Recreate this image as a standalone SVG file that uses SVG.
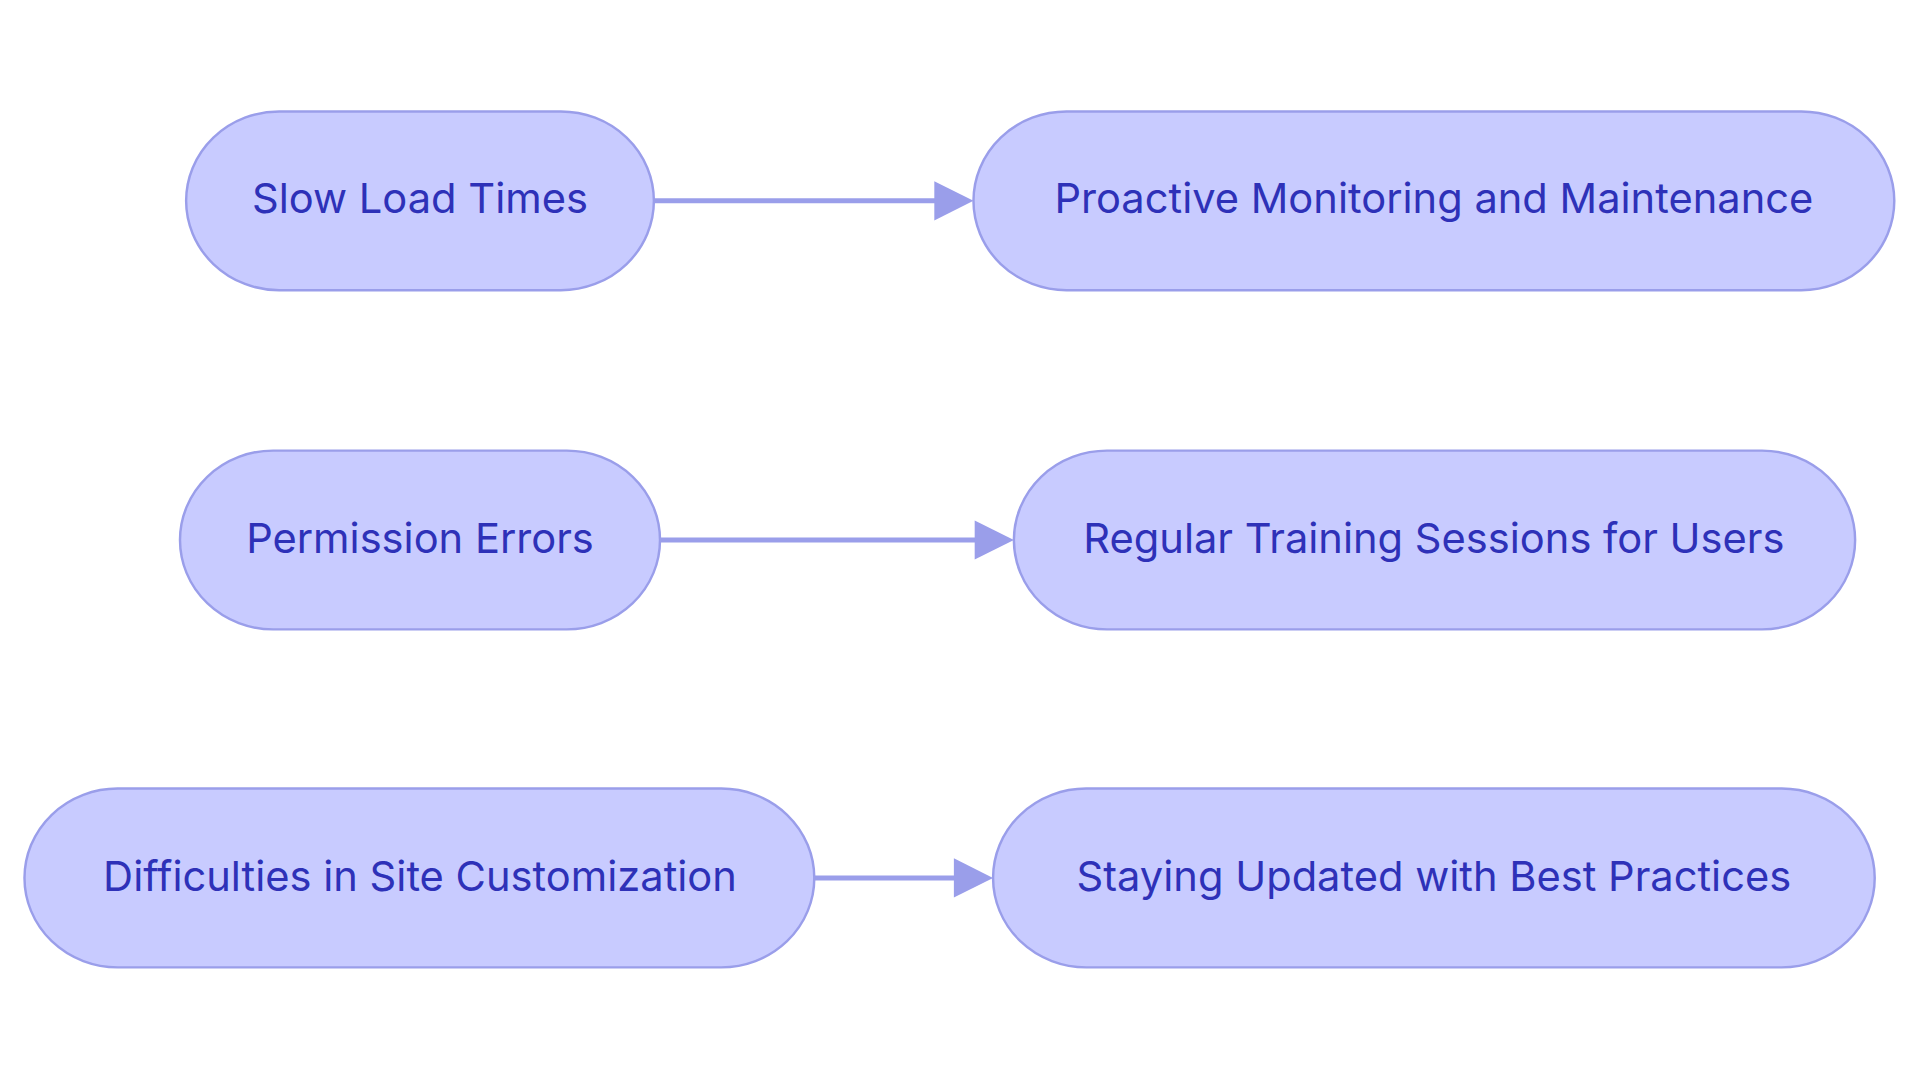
<svg xmlns="http://www.w3.org/2000/svg" width="1920" height="1083" viewBox="0 0 1920 1083">
<style>
.n rect{fill:#c8cbff;stroke:#9a9eea;stroke-width:2}
.n text{font-family:Inter,"Open Sans",sans-serif;font-size:34px;fill:#2e31b8;text-anchor:middle;dominant-baseline:central}
.e{stroke:#9a9eea;stroke-width:4;fill:none}
.h{fill:#9a9eea}
</style>
<rect width="1920" height="1083" fill="#fff"/>
<g transform="scale(1.2245)">
<g id="edges">
<path class="e" d="M534,164H765"/><path class="h" d="M763,148L795,164L763,180z"/>
<path class="e" d="M539,441H798"/><path class="h" d="M796,425L828,441L796,457z"/>
<path class="e" d="M665,717H781"/><path class="h" d="M779,701L811,717L779,733z"/>
</g>
<g id="n1" class="n"><rect x="152" y="91" width="382" height="146" rx="76"/><text x="343" y="162">Slow Load Times</text></g>
<g id="n2" class="n"><rect x="795" y="91" width="752" height="146" rx="76"/><text x="1171" y="162">Proactive Monitoring and Maintenance</text></g>
<g id="n3" class="n"><rect x="147" y="368" width="392" height="146" rx="76"/><text x="343" y="439">Permission Errors</text></g>
<g id="n4" class="n"><rect x="828" y="368" width="687" height="146" rx="76"/><text x="1171" y="439">Regular Training Sessions for Users</text></g>
<g id="n5" class="n"><rect x="20" y="644" width="645" height="146" rx="76"/><text x="343" y="715">Difficulties in Site Customization</text></g>
<g id="n6" class="n"><rect x="811" y="644" width="720" height="146" rx="76"/><text x="1171" y="715">Staying Updated with Best Practices</text></g>
</g>
</svg>
